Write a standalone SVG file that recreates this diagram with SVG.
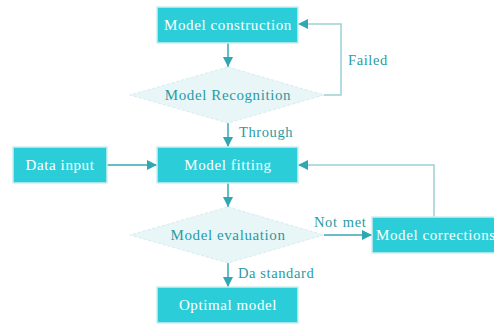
<svg xmlns="http://www.w3.org/2000/svg" width="494" height="327" viewBox="0 0 494 327">
<defs>
<style>
.box{fill:#2bced8;stroke:#cfeef0;stroke-width:1.5}
.dia{fill:#e8f6f7;stroke:#d6ecee;stroke-width:1;stroke-dasharray:3 2}
text{font-family:'Liberation Serif','Times New Roman',serif;letter-spacing:0.6px}
.bt{font-size:15px;fill:#ffffff;text-anchor:middle}
.dt{font-size:15px;fill:#2a9aa4;text-anchor:middle}
.lt{font-size:14.5px;fill:#2a9aa4}
.c{fill:none;stroke:#35a9b3;stroke-width:1.5}
.cl{fill:none;stroke:#9ccfd3;stroke-width:1.5}
</style>
<marker id="ah" viewBox="0 0 10 10" refX="10" refY="5" markerWidth="10" markerHeight="10" markerUnits="userSpaceOnUse" orient="auto">
<path d="M0,0 L10,5 L0,10 z" fill="#2fa8b2"/>
</marker>
</defs>
<g id="connectors">
<path class="c" d="M228,43 V67" marker-end="url(#ah)"/>
<path class="cl" d="M324,95 H341 V24 H298" marker-end="url(#ah)"/>
<path class="c" d="M228,123 V147" marker-end="url(#ah)"/>
<path class="c" d="M107,165 H157" marker-end="url(#ah)"/>
<path class="c" d="M228,183 V207" marker-end="url(#ah)"/>
<path class="c" d="M324,235 H372" marker-end="url(#ah)"/>
<path class="cl" d="M434,217 V165 H298" marker-end="url(#ah)"/>
<path class="c" d="M228,263 V287" marker-end="url(#ah)"/>
<text class="lt" x="348" y="65">Failed</text>
<text class="lt" x="239" y="137">Through</text>
<text class="lt" x="314" y="227" word-spacing="1">Not met</text>
<text class="lt" x="238" y="278">Da standard</text>
</g>
<g id="model-construction">
<rect class="box" x="157" y="7" width="141" height="36"/>
<text class="bt" x="228" y="30">Model construction</text>
</g>
<g id="model-recognition">
<polygon class="dia" points="228,67 324,95 228,123 130,95"/>
<text class="dt" x="228" y="100">Model Recognition</text>
</g>
<g id="data-input">
<rect class="box" x="13" y="147" width="94" height="36"/>
<text class="bt" x="60" y="170">Data input</text>
</g>
<g id="model-fitting">
<rect class="box" x="157" y="147" width="141" height="36"/>
<text class="bt" x="228" y="170">Model fitting</text>
</g>
<g id="model-evaluation">
<polygon class="dia" points="228,207 324,235 228,263 130,235"/>
<text class="dt" x="228" y="240">Model evaluation</text>
</g>
<g id="model-corrections">
<rect class="box" x="372" y="217" width="130" height="36"/>
<text class="bt" x="376" y="240" style="text-anchor:start">Model corrections</text>
</g>
<g id="optimal-model">
<rect class="box" x="157" y="287" width="141" height="36"/>
<text class="bt" x="228" y="310">Optimal model</text>
</g>
</svg>
